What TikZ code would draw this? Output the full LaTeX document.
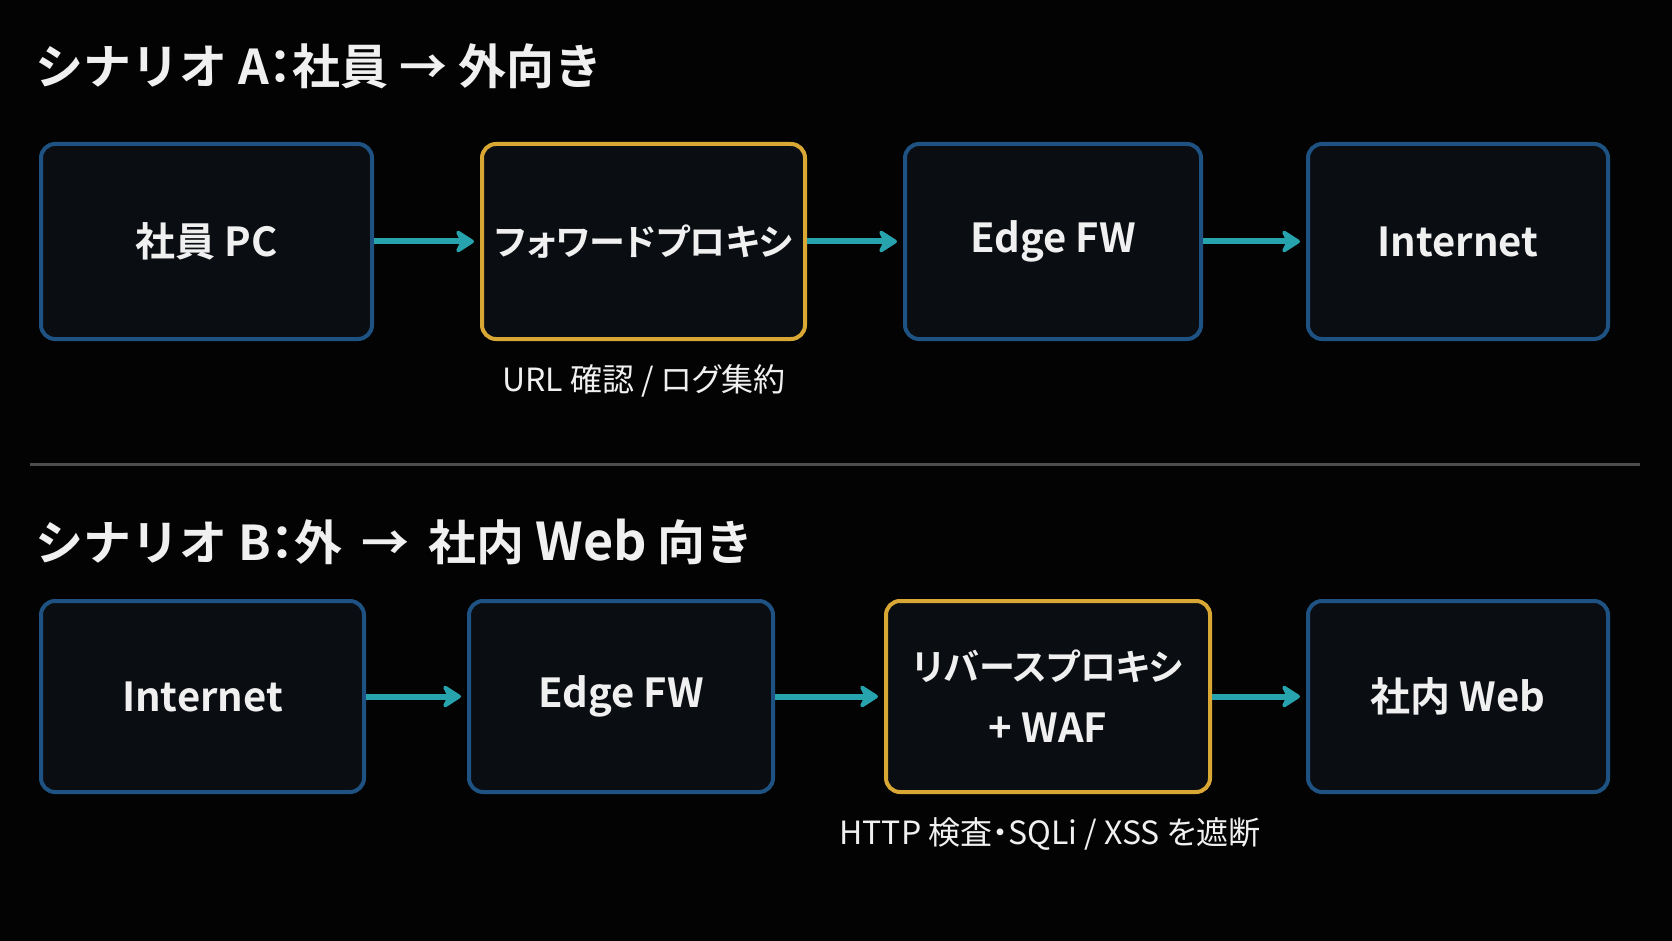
\documentclass[tikz,border=0pt]{standalone}
\usepackage{fontspec}
\setmainfont{Noto Sans CJK JP}[BoldFont={Noto Sans CJK JP Bold}]
\newfontfamily\propfont{Noto Sans CJK JP}[BoldFont={Noto Sans CJK JP Bold},RawFeature=+palt]
\usetikzlibrary{arrows.meta}
\definecolor{sfondo}{HTML}{030303}
\definecolor{fondo}{HTML}{0A0D12}
\definecolor{bordo}{HTML}{1E5282}
\definecolor{oro}{HTML}{D9A834}
\definecolor{ciano}{HTML}{27A3AE}
\definecolor{testo}{HTML}{F0F0F0}
\definecolor{riga}{HTML}{4D4D4D}
\begin{document}
\begin{tikzpicture}[x=1pt, y=-1pt,
	box/.style={draw=bordo, fill=fondo, line width=4pt, rounded corners=14pt, minimum height=195pt, text=testo, font=\propfont\fontsize{40}{48}\selectfont\bfseries, align=center},
	hot/.style={box, draw=oro, font=\propfont\fontsize{36}{44}\selectfont\bfseries},
	flow/.style={-{Stealth[length=22pt,width=28pt,inset=7pt,round]}, draw=ciano, line width=6pt, shorten >=6pt},
	heading/.style={anchor=west, text=testo, font=\fontsize{48}{56}\selectfont\bfseries, inner sep=0pt},
	note/.style={text=testo, font=\propfont\fontsize{32}{38}\selectfont, inner sep=0pt}]
	% Sfondo
	\fill[sfondo] (0,0) rectangle (1672,941);
	\useasboundingbox (0,0) rectangle (1672,941);
	
	% Scenario A
	\node[heading] (titA) at (35,66) {シナリオ A{\propfont ：}社員 → 外向き};
	\node[box, minimum width=331pt] (pc) at (206.5,241.5) {社員 PC};
	\node[hot, minimum width=323pt] (fwd) at (643.5,241.5) {フォワードプロキシ};
	\node[box, minimum width=296pt] (efw) at (1053,241.5) {Edge FW};
	\node[box, minimum width=300pt] (inet) at (1458,241.5) {Internet};
	\foreach \a/\b in {pc/fwd, fwd/efw, efw/inet} \draw[flow] (\a) -- (\b);
	\node[note] (fwdnote) at (644,381) {URL 確認 / ログ集約};
	
	% Separatore
	\draw[riga, line width=3pt] (30,464) -- (1640,464);
	
	% Scenario B
	\node[heading] (titB) at (35,542) {シナリオ B{\propfont ：}外 \,→\, 社内 {\fontsize{52}{56}\selectfont Web} 向き};
	\node[box, minimum width=323pt, minimum height=191pt] (inetB) at (202.5,696.5) {Internet};
	\node[box, minimum width=304pt, minimum height=191pt] (efwB) at (621,696.5) {Edge FW};
	\node[hot, minimum width=324pt, minimum height=191pt] (rp) at (1048,696.5) {リバースプロキシ\\[18pt]{\fontsize{40}{48}\selectfont + WAF}};
	\node[box, minimum width=300pt, minimum height=191pt] (web) at (1458,696.5) {社内 Web};
	\foreach \a/\b in {inetB/efwB, efwB/rp, rp/web} \draw[flow] (\a) -- (\b);
	\node[note] (rpnote) at (1050,834) {HTTP 検査・SQLi / XSS を遮断};
\end{tikzpicture}
\end{document}
